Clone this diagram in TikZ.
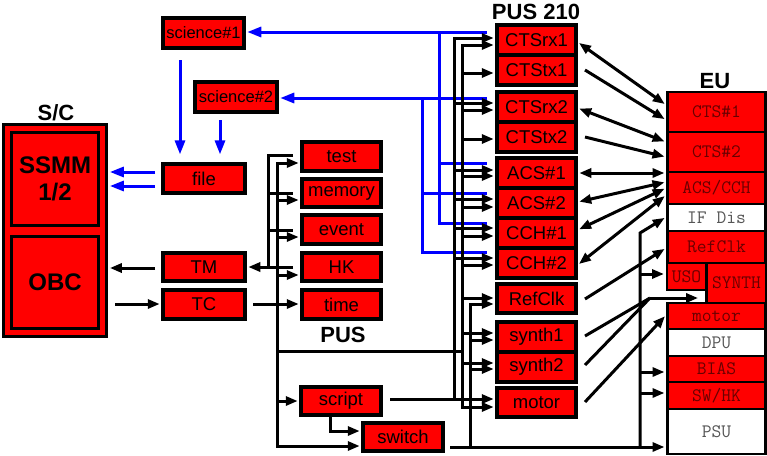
\documentclass[tikz,border=0pt]{standalone}
\usepackage{fontspec}
\setmainfont{Liberation Sans}
\usetikzlibrary{arrows.meta,calc}
\definecolor{eutxt}{RGB}{105,0,0}
\definecolor{eugrey}{RGB}{85,85,85}
\begin{document}
\begin{tikzpicture}[x=1pt,y=-1pt,
  bx/.style={draw=black,line width=3.3pt,fill=red,inner sep=0pt,font=\fontsize{18.5}{20}\selectfont},
  sbx/.style={bx,font=\fontsize{16.5}{18}\selectfont},
  eub/.style={draw=black,line width=2.8pt,fill=red,inner sep=0pt,text=eutxt,font=\ttfamily\fontsize{19}{21}\selectfont},
  euw/.style={eub,fill=white,text=eugrey},
  ttl/.style={font=\bfseries\fontsize{22}{24}\selectfont,inner sep=0pt},
  big/.style={draw=black,line width=3.5pt,fill=red,inner sep=0pt,align=center,font=\bfseries\fontsize{24}{27}\selectfont},
  ln/.style={line width=3pt},
  arr/.style={line width=3pt,-{Triangle[length=12pt,width=9pt]},shorten >=1.6pt},
  darr/.style={line width=3pt,{Triangle[length=12pt,width=9pt]}-{Triangle[length=12pt,width=9pt]},shorten >=1.6pt,shorten <=1.6pt},
  barr/.style={draw=blue,line width=3pt,-{Triangle[length=14pt,width=10pt]},shorten >=1.6pt},
  bln/.style={draw=blue,line width=3pt}
]
\useasboundingbox (0,0) rectangle (767,455);

% ---------- S/C ----------
\node[ttl] (sclbl) at (56,113) {S/C};
\node[big,minimum width=103pt,minimum height=212pt] (sc) at (55,230.5) {};
\node[big,minimum width=87pt,minimum height=93pt] (ssmm) at (55,179) {SSMM\\1/2};
\node[big,minimum width=87pt,minimum height=92pt] (obc) at (55,282.5) {OBC};

% ---------- left column ----------
\node[sbx,minimum width=81pt,minimum height=30pt] (science1) at (203.5,33) {science\#1};
\node[sbx,minimum width=82pt,minimum height=30pt] (science2) at (236,97) {science\#2};
\node[bx,minimum width=82pt,minimum height=29pt] (file) at (204,178.5) {file};
\node[bx,minimum width=82pt,minimum height=28pt] (TM) at (204,267) {TM};
\node[bx,minimum width=82pt,minimum height=29pt] (TC) at (204,304.5) {TC};

% ---------- PUS ----------
\node[bx,minimum width=79pt,minimum height=29pt] (test) at (341.5,156.5) {test};
\node[bx,minimum width=79pt,minimum height=28pt] (memory) at (341.5,193) {memory};
\node[bx,minimum width=79pt,minimum height=29pt] (event) at (341.5,229.5) {event};
\node[bx,minimum width=79pt,minimum height=28pt] (HK) at (341.5,267) {HK};
\node[bx,minimum width=79pt,minimum height=29pt] (time) at (341.5,304.5) {time};
\node[ttl] (puslbl) at (343,335) {PUS};
\node[bx,minimum width=80pt,minimum height=28pt] (script) at (341,401) {script};
\node[bx,minimum width=80pt,minimum height=28pt] (switch) at (403,437) {switch};

% ---------- PUS 210 ----------
\node[ttl] (pus210lbl) at (536,12) {PUS 210};
\node[bx,minimum width=79pt,minimum height=30pt] (CTSrx1) at (536.5,40) {CTSrx1};
\node[bx,minimum width=79pt,minimum height=30pt] (CTStx1) at (536.5,70) {CTStx1};
\node[bx,minimum width=79pt,minimum height=30pt] (CTSrx2) at (536.5,107) {CTSrx2};
\node[bx,minimum width=79pt,minimum height=30pt] (CTStx2) at (536.5,137) {CTStx2};
\node[bx,minimum width=79pt,minimum height=30pt] (ACSa) at (536.5,173) {ACS\#1};
\node[bx,minimum width=79pt,minimum height=30pt] (ACSb) at (536.5,203) {ACS\#2};
\node[bx,minimum width=79pt,minimum height=30pt] (CCHa) at (536.5,233) {CCH\#1};
\node[bx,minimum width=79pt,minimum height=30pt] (CCHb) at (536.5,263) {CCH\#2};
\node[bx,minimum width=79pt,minimum height=29pt] (RefClk) at (536.5,298.5) {RefClk};
\node[bx,minimum width=79pt,minimum height=30pt] (synthA) at (536.5,337) {synth1};
\node[bx,minimum width=79pt,minimum height=30pt] (synthB) at (536.5,367) {synth2};
\node[bx,minimum width=79pt,minimum height=29pt] (motor) at (536.5,402.5) {motor};

% ---------- EU ----------
\node[ttl] (eulbl) at (715,81) {EU};
\node[eub,minimum width=98pt,minimum height=40pt] (cts1) at (716.5,112) {CTS\#1};
\node[eub,minimum width=98pt,minimum height=40pt] (cts2) at (716.5,152) {CTS\#2};
\node[eub,minimum width=98pt,minimum height=32pt] (acscch) at (716.5,188) {ACS/CCH};
\node[euw,minimum width=98pt,minimum height=27pt] (ifdis) at (716.5,217.5) {IF Dis};
\node[eub,minimum width=98pt,minimum height=32pt] (euref) at (716.5,247) {RefClk};
\node[eub,minimum width=39pt,minimum height=27pt] (uso) at (686.5,276.5) {USO};
\node[eub,minimum width=60pt,minimum height=40pt] (synthEU) at (736.5,283) {SYNTH};
\node[eub,minimum width=98pt,minimum height=26pt] (eumotor) at (716.5,316) {motor};
\node[euw,minimum width=98pt,minimum height=27pt] (dpu) at (716.5,342.5) {DPU};
\node[eub,minimum width=98pt,minimum height=26pt] (bias) at (716.5,369) {BIAS};
\node[eub,minimum width=98pt,minimum height=27pt] (swhk) at (716.5,395.5) {SW/HK};
\node[euw,minimum width=98pt,minimum height=45pt] (psu) at (716.5,431.5) {PSU};

% ---------- blue science paths ----------
\draw[barr] (487,32) -- (science1.east |- 0,32);
\draw[bln] (439,32) -- (439,223) -- (487,223);
\draw[bln] (439,163) -- (487,163);
\draw[barr] (487,98) -- (science2.east |- 0,98);
\draw[bln] (422,98) -- (422,252) -- (487,252);
\draw[bln] (422,193) -- (487,193);
\draw[barr] (180,60) -- (180,156);
\draw[barr] (220,120) -- (220,156);
\draw[barr] (155,172) -- (sc.east |- 0,172);
\draw[barr] (155,186) -- (sc.east |- 0,186);

% ---------- S/C <-> TM/TC ----------
\draw[arr] (155,268) -- (sc.east |- 0,268);
\draw[arr] (115,304) -- (TC.west |- 0,304);

% ---------- PUS buses ----------
\draw[ln] (293,155) -- (268,155) -- (268,267);
\draw[ln] (268,193) -- (293,193);
\draw[ln] (268,230) -- (293,230);
\draw[arr] (293,267) -- (TM.east |- 0,267);
\draw[arr] (277,300) -- (277,163) -- (test.west |- 0,163);
\draw[arr] (277,300) -- (277,446) -- (switch.west |- 0,446);
\draw[arr] (277,200) -- (memory.west |- 0,200);
\draw[arr] (277,237) -- (event.west |- 0,237);
\draw[arr] (277,275) -- (HK.west |- 0,275);
\draw[arr] (277,401) -- (script.west |- 0,401);
\draw[arr] (253,304) -- (time.west |- 0,304);
\draw[arr] (330,417) -- (330,431) -- (switch.west |- 0,431);
\draw[ln] (277,351) -- (462,351);

% ---------- PUS 210 buses ----------
% script bus
\draw[arr] (390,399) -- (motor.west |- 0,399);
\draw[arr] (454,399) -- (454,38) -- (CTSrx1.west |- 0,38);
\draw[arr] (454,103) -- (CTSrx2.west |- 0,103);
\draw[arr] (454,170) -- (ACSa.west |- 0,170);
\draw[arr] (454,199) -- (ACSb.west |- 0,199);
\draw[arr] (454,228) -- (CCHa.west |- 0,228);
\draw[arr] (454,258) -- (CCHb.west |- 0,258);
% PUS bus
\draw[arr] (462,200) -- (462,45) -- (CTSrx1.west |- 0,45);
\draw[arr] (462,200) -- (462,407) -- (motor.west |- 0,407);
\draw[arr] (462,73) -- (CTStx1.west |- 0,73);
\draw[arr] (462,110) -- (CTSrx2.west |- 0,110);
\draw[arr] (462,139) -- (CTStx2.west |- 0,139);
\draw[arr] (462,176) -- (ACSa.west |- 0,176);
\draw[arr] (462,207) -- (ACSb.west |- 0,207);
\draw[arr] (462,236) -- (CCHa.west |- 0,236);
\draw[arr] (462,265) -- (CCHb.west |- 0,265);
\draw[arr] (462,298) -- (RefClk.west |- 0,298);
\draw[arr] (462,333) -- (synthA.west |- 0,333);
\draw[arr] (462,363) -- (synthB.west |- 0,363);
% switch bus
\draw[arr] (450,447) -- (psu.west |- 0,447);
\draw[arr] (470,447) -- (470,304) -- (RefClk.west |- 0,304);
\draw[arr] (470,340) -- (synthA.west |- 0,340);
\draw[arr] (470,369) -- (synthB.west |- 0,369);
\draw[arr] (640,447) -- (640,233) -- (ifdis.west |- 0,217);
\draw[arr] (640,274) -- (uso.west |- 0,274);
\draw[arr] (640,372) -- (bias.west |- 0,372);
\draw[arr] (640,393) -- (swhk.west |- 0,393);

% ---------- PUS 210 <-> EU ----------
\draw[darr] (CTSrx1.east |- 0,42) -- (cts1.west |- 0,105);
\draw[arr] (585,70) -- (cts1.west |- 0,120);
\draw[darr] (CTSrx2.east |- 0,108) -- (cts2.west |- 0,142);
\draw[arr] (585,137) -- (cts2.west |- 0,157);
\draw[darr] (ACSa.east |- 0,173) -- (acscch.west |- 0,173);
\draw[darr] (ACSb.east |- 0,202) -- (acscch.west |- 0,182);
\draw[darr] (CCHa.east |- 0,230) -- (acscch.west |- 0,188);
\draw[darr] (CCHb.east |- 0,265) -- (acscch.west |- 0,195);
\draw[arr] (585,299) -- (euref.west |- 0,248);
\draw[ln] (585,336) -- (650,298);
\draw[ln] (585,365) -- (650,298);
\draw[arr,shorten >=7pt] (650,298) -- (synthEU.west |- 0,298);
\draw[arr] (585,402) -- (eumotor.west |- 0,315);
\end{tikzpicture}
\end{document}
